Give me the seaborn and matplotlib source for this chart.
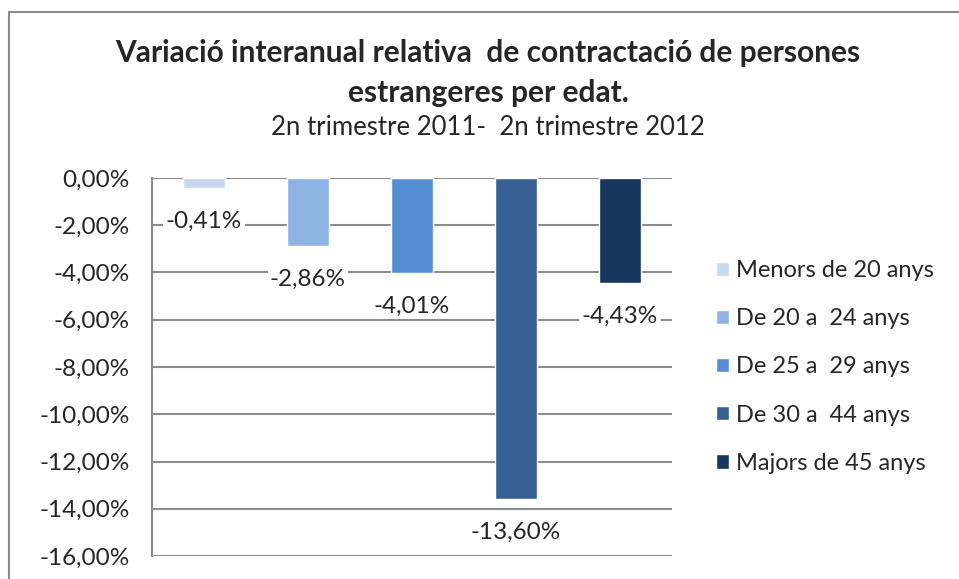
import pandas as pd
import matplotlib.pyplot as plt
import seaborn as sns
from matplotlib.lines import Line2D

# dades
grups = ['Menors de 20 anys', 'De 20 a  24 anys', 'De 25 a  29 anys',
         'De 30 a  44 anys', 'Majors de 45 anys']
variacio = [-0.41, -2.86, -4.01, -13.60, -4.43]
etiquetes = ['-0,41%', '-2,86%', '-4,01%', '-13,60%', '-4,43%']
colors = ['#C6D9F1', '#8EB4E3', '#558ED5', '#366092', '#17375E']
ticks_y = [0, -2, -4, -6, -8, -10, -12, -14, -16]
ticks_y_txt = ['0,00%', '-2,00%', '-4,00%', '-6,00%', '-8,00%',
               '-10,00%', '-12,00%', '-14,00%', '-16,00%']

sns.set_style('white')
plt.rcParams['font.family'] = ['Lato', 'DejaVu Sans']

df = pd.DataFrame({'grup': grups, 'valor': variacio})

fig = plt.figure(figsize=(9.59, 5.79), dpi=100)
ax = fig.add_axes([0.1585, 0.0397, 0.5422, 0.6529])

sns.barplot(data=df, x='grup', y='valor', hue='grup', palette=colors,
            width=0.4, dodge=False, legend=True, ax=ax, saturation=1)

ax.set_ylim(-16, 0)
ax.set_yticks(ticks_y)
ax.set_yticklabels(ticks_y_txt, fontsize=17.5)
ax.set_xticks([])
ax.set_xlabel('')
ax.set_ylabel('')
ax.grid(axis='y', color='#8C8C8C', linewidth=1.5, zorder=0)
ax.set_axisbelow(True)
for s in ['top', 'right', 'bottom']:
    ax.spines[s].set_visible(False)
ax.spines['left'].set_color('#8C8C8C')
ax.spines['left'].set_linewidth(1.5)
ax.tick_params(axis='y', direction='out', length=7, width=1.5,
               color='#8C8C8C', pad=9)
ax.set_xlim(-0.5, len(grups) - 0.5)

# etiquetes de dades
for i, (v, t) in enumerate(zip(variacio, etiquetes)):
    ax.annotate(t, (i, v), xytext=(0, -24), textcoords='offset points',
                ha='center', va='center', fontsize=17.5,
                bbox=dict(boxstyle='square,pad=0.1', fc='white', ec='none'))

leg = ax.legend(loc='center left', bbox_to_anchor=(1.085, 0.5), frameon=False,
                fontsize=17, handlelength=0.55, handleheight=0.55,
                handletextpad=0.3, labelspacing=1.15, borderpad=0,
                borderaxespad=0)

# títols
fig.text(0.509, 0.908, 'Variació interanual relativa  de contractació de persones',
         ha='center', va='center', fontsize=21.5, fontweight='bold')
fig.text(0.509, 0.840, 'estrangeres per edat.', ha='center', va='center',
         fontsize=21.5, fontweight='bold')
fig.text(0.509, 0.779, '2n trimestre 2011-  2n trimestre 2012', ha='center',
         va='center', fontsize=18.5)

# marc del gràfic
fig.add_artist(Line2D([9 / 959, 9 / 959], [0, 1 - 12 / 579],
                      color='#8C8C8C', linewidth=1.5))
fig.add_artist(Line2D([9 / 959, 1], [1 - 12 / 579, 1 - 12 / 579],
                      color='#8C8C8C', linewidth=1.5))

plt.savefig('out.png', dpi=100)
